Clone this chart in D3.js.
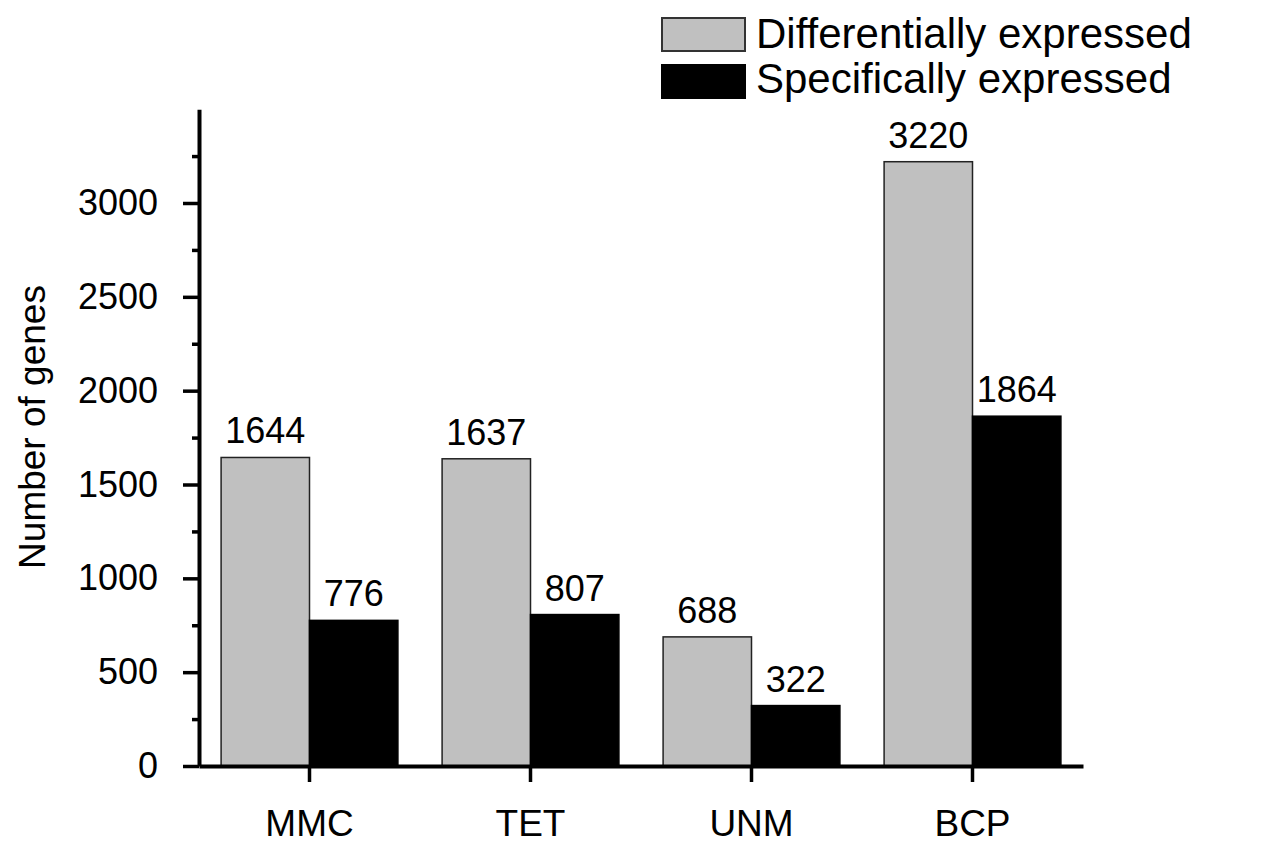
<!DOCTYPE html>
<html>
<head>
<meta charset="utf-8">
<script src="https://cdn.jsdelivr.net/npm/d3@7"></script>
<style>
  body { margin: 0; padding: 0; background: #fff; }
  text { font-family: "Liberation Sans", Arial, Helvetica, sans-serif; fill: #000; }
  .axis path, .axis line { stroke: #000; }
</style>
</head>
<body>
<div id="chart"></div>
<script>
// data
var categories = ["MMC", "TET", "UNM", "BCP"];
var seriesNames = ["Differentially expressed", "Specifically expressed"];
var differential = [1644, 1637, 688, 3220];
var specific = [776, 807, 322, 1864];
var majorTicks = [0, 500, 1000, 1500, 2000, 2500, 3000];
var minorTicks = [250, 750, 1250, 1750, 2250, 2750, 3250];

var W = 1269, H = 851;
var svg = d3.select("#chart").append("svg")
  .attr("width", W)
  .attr("height", H);

var x0 = 199, x1 = 1083, yBase = 766;

var x = d3.scaleBand()
  .domain(categories)
  .range([x0, x1])
  .paddingInner(0.2)
  .paddingOuter(0.1);

var xs = d3.scaleBand()
  .domain([0, 1])
  .range([0, x.bandwidth()]);

var y = d3.scaleLinear()
  .domain([0, 3500])
  .range([yBase, yBase - 3500 * 563 / 3000]);

var colors = ["#c0c0c0", "#000"];
var series = [differential, specific];

// bars
series.forEach(function(vals, s) {
  svg.selectAll("rect.s" + s)
    .data(vals)
    .enter()
    .append("rect")
    .attr("class", "s" + s)
    .attr("x", function(d, i) { return x(categories[i]) + xs(s); })
    .attr("y", function(d) { return y(d); })
    .attr("width", xs.bandwidth())
    .attr("height", function(d) { return y(0) - y(d); })
    .attr("fill", colors[s])
    .attr("stroke", s == 0 ? "#222" : "#000")
    .attr("stroke-width", 1.5);

  svg.selectAll("text.v" + s)
    .data(vals)
    .enter()
    .append("text")
    .attr("class", "v" + s)
    .attr("x", function(d, i) { return x(categories[i]) + xs(s) + xs.bandwidth() / 2; })
    .attr("y", function(d) { return y(d) - 14; })
    .attr("text-anchor", "middle")
    .attr("font-size", "36px")
    .text(function(d) { return d; });
});

// y axis
var yAxis = svg.append("g")
  .attr("class", "axis")
  .attr("transform", "translate(" + x0 + ",0)")
  .call(d3.axisLeft(y).tickValues(majorTicks).tickFormat(d3.format("d"))
    .tickSize(16).tickPadding(25).tickSizeOuter(0));
yAxis.select(".domain").attr("stroke-width", 4);
yAxis.selectAll(".tick line").attr("stroke-width", 3.5);
yAxis.selectAll(".tick text").attr("font-size", "36px").attr("font-family", null);

var yMinor = svg.append("g")
  .attr("class", "axis")
  .attr("transform", "translate(" + x0 + ",0)")
  .call(d3.axisLeft(y).tickValues(minorTicks).tickSize(7).tickFormat(""));
yMinor.select(".domain").remove();
yMinor.selectAll(".tick line").attr("stroke-width", 3.5);

// x axis
var xAxis = svg.append("g")
  .attr("class", "axis")
  .attr("transform", "translate(0," + yBase + ")")
  .call(d3.axisBottom(x).tickSize(16).tickPadding(28).tickSizeOuter(0));
xAxis.select(".domain").attr("stroke-width", 4);
xAxis.selectAll(".tick line").attr("stroke-width", 3.5);
xAxis.selectAll(".tick text").attr("font-size", "37px").attr("font-family", null);

// y axis title
svg.append("text")
  .attr("transform", "translate(45,427) rotate(-90)")
  .attr("text-anchor", "middle")
  .attr("font-size", "37px")
  .text("Number of genes");

// legend
var legend = svg.append("g").attr("transform", "translate(662,18)");
seriesNames.forEach(function(name, s) {
  legend.append("rect")
    .attr("x", 0)
    .attr("y", s * 47)
    .attr("width", 83)
    .attr("height", 33)
    .attr("fill", colors[s])
    .attr("stroke", s == 0 ? "#333" : "#000")
    .attr("stroke-width", 2);
  legend.append("text")
    .attr("x", 94)
    .attr("y", s * 45 + 30)
    .attr("font-size", "42px")
    .text(name);
});
</script>
</body>
</html>
